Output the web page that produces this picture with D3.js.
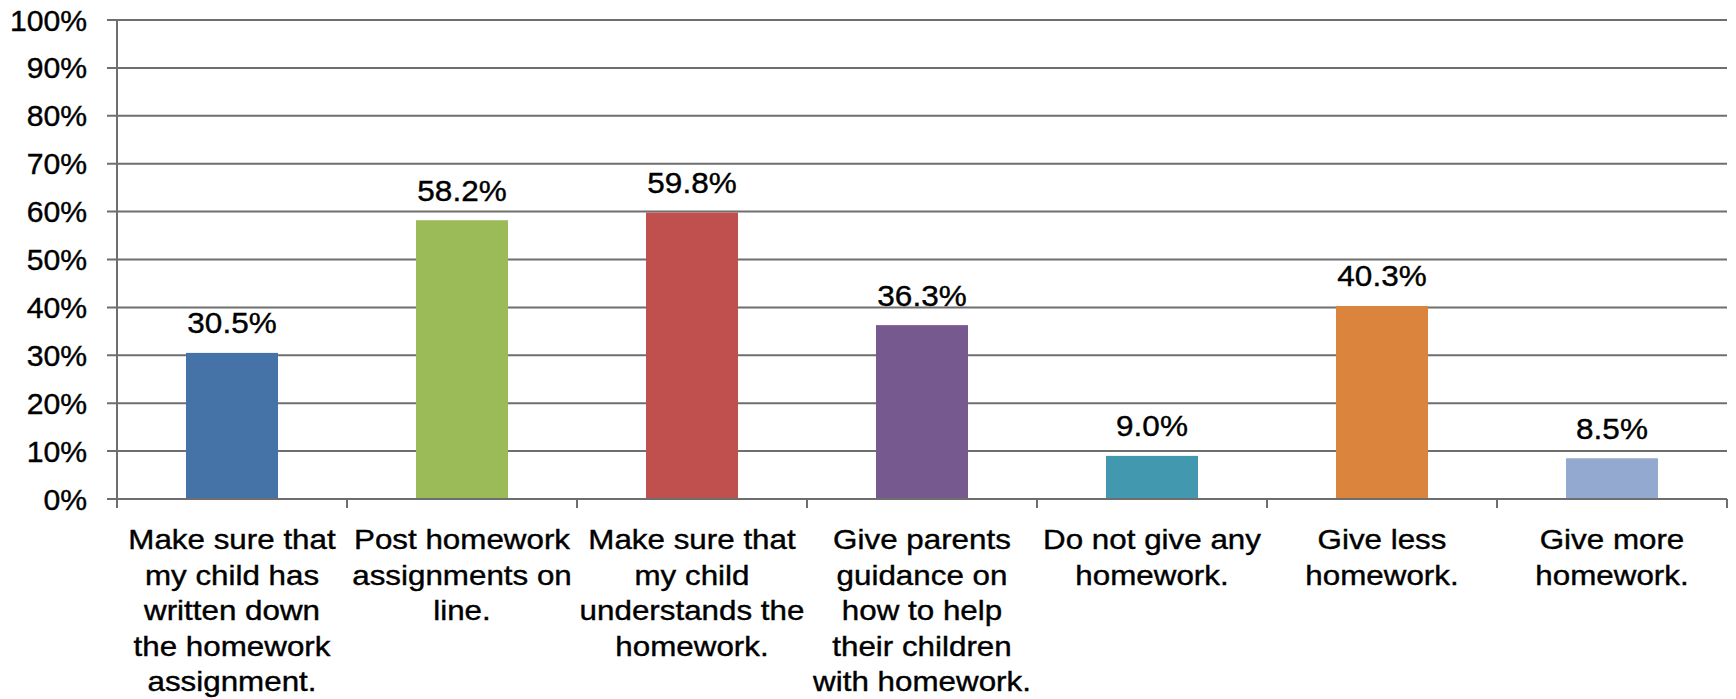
<!DOCTYPE html>
<html>
<head>
<meta charset="utf-8">
<script src="https://cdn.jsdelivr.net/npm/d3@7"></script>
<style>
  html, body { margin: 0; padding: 0; background: #fff; }
  svg { display: block; font-family: "Liberation Sans", Arial, Helvetica, sans-serif; }
  text { stroke: #000; stroke-width: 0.4px; }
</style>
</head>
<body>
<svg id="chart" width="1736" height="699"></svg>
<script>
// ---- data ----
const categories = [
  "Make sure that my child has written down the homework assignment.",
  "Post homework assignments on line.",
  "Make sure that my child understands the homework.",
  "Give parents guidance on how to help their children with homework.",
  "Do not give any homework.",
  "Give less homework.",
  "Give more homework."
];
const categoryLines = [
  ["Make sure that", "my child has", "written down", "the homework", "assignment."],
  ["Post homework", "assignments on", "line."],
  ["Make sure that", "my child", "understands the", "homework."],
  ["Give parents", "guidance on", "how to help", "their children", "with homework."],
  ["Do not give any", "homework."],
  ["Give less", "homework."],
  ["Give more", "homework."]
];
const values = [30.5, 58.2, 59.8, 36.3, 9.0, 40.3, 8.5];
const barColors = ["#4572A7", "#9BBB59", "#C0504D", "#75598F", "#4198AF", "#DB843D", "#93A9CF"];
const yTicks = [0, 10, 20, 30, 40, 50, 60, 70, 80, 90, 100];

// ---- layout ----
const svg = d3.select("#chart");
const mLeft = 117, mRight = 1727, mTop = 20, mBottom = 499;
const gridColor = "#6e6e6e";

const x = d3.scaleBand().domain(categories).range([mLeft, mRight]).paddingInner(0.6).paddingOuter(0.3);
const y = d3.scaleLinear().domain([0, 100]).range([mBottom, mTop]);

// gridlines
svg.append("g").selectAll("line").data(yTicks).join("line")
  .attr("x1", mLeft - 10).attr("x2", mRight)
  .attr("y1", d => y(d)).attr("y2", d => y(d))
  .attr("stroke", gridColor).attr("stroke-width", 2);

// y tick labels
svg.append("g").selectAll("text").data(yTicks).join("text")
  .attr("transform", d => `translate(87,${y(d) + 10.5}) scale(1.04,1)`)
  .attr("text-anchor", "end")
  .attr("font-size", 29)
  .attr("fill", "#000")
  .text(d => d + "%");

// y axis line
svg.append("line")
  .attr("x1", mLeft).attr("x2", mLeft).attr("y1", mTop).attr("y2", mBottom + 9)
  .attr("stroke", gridColor).attr("stroke-width", 2);

// category separator ticks
const bounds = d3.range(categories.length + 1).map(i => mLeft + i * (mRight - mLeft) / categories.length);
svg.append("g").selectAll("line").data(bounds.slice(1)).join("line")
  .attr("x1", d => d).attr("x2", d => d)
  .attr("y1", mBottom).attr("y2", mBottom + 9)
  .attr("stroke", gridColor).attr("stroke-width", 2);

// bars
svg.append("g").selectAll("rect").data(values).join("rect")
  .attr("x", (d, i) => x(categories[i]))
  .attr("width", x.bandwidth())
  .attr("y", d => y(d))
  .attr("height", d => y(0) - y(d))
  .attr("fill", (d, i) => barColors[i]);

// redraw baseline over bars
svg.append("line")
  .attr("x1", mLeft).attr("x2", mRight).attr("y1", y(0)).attr("y2", y(0))
  .attr("stroke", gridColor).attr("stroke-width", 2);

// value labels
svg.append("g").selectAll("text").data(values).join("text")
  .attr("transform", (d, i) => `translate(${x(categories[i]) + x.bandwidth() / 2},${y(d) - 19.5}) scale(1.05,1)`)
  .attr("text-anchor", "middle")
  .attr("font-size", 30)
  .attr("fill", "#000")
  .text(d => d.toFixed(1) + "%");

// category labels
const catG = svg.append("g").selectAll("g").data(categories).join("g")
  .attr("transform", d => `translate(${x(d) + x.bandwidth() / 2},0)`);
catG.each(function (d, i) {
  d3.select(this).selectAll("text").data(categoryLines[i]).join("text")
    .attr("transform", (t, j) => `translate(0,${549 + j * 35.6}) scale(1.12,1)`)
    .attr("text-anchor", "middle")
    .attr("font-size", 28)
    .attr("fill", "#000")
    .text(t => t);
});
</script>
</body>
</html>
